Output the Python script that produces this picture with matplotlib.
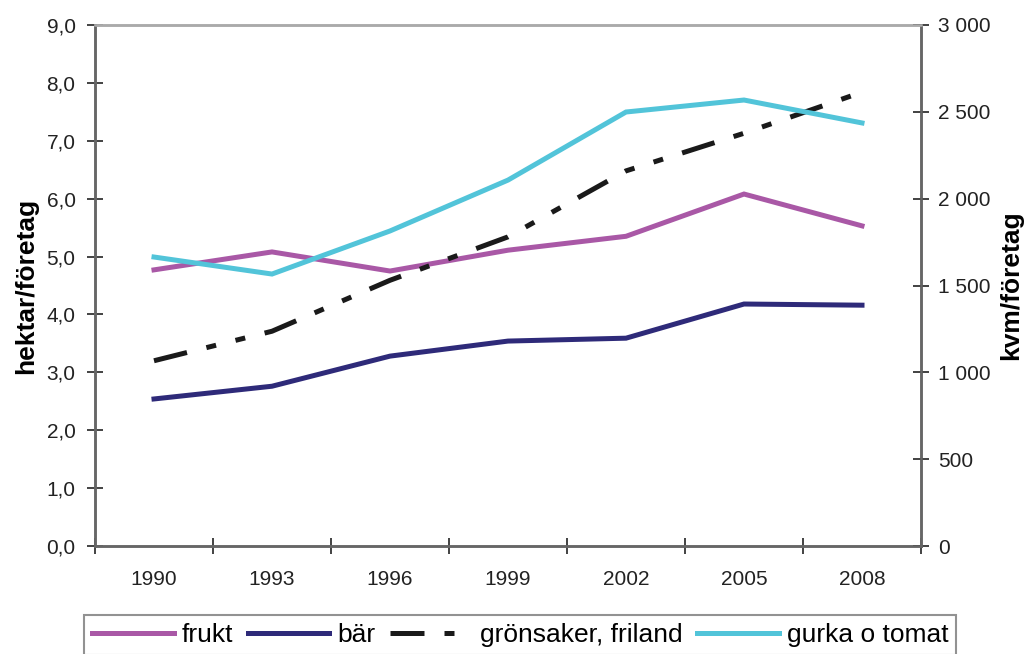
import matplotlib
matplotlib.use("Agg")
import matplotlib.pyplot as plt
from matplotlib.ticker import FuncFormatter, FixedLocator

plt.rcParams["font.family"] = ["Liberation Sans", "DejaVu Sans"]

years = ["1990", "1993", "1996", "1999", "2002", "2005", "2008"]
frukt = [4.77, 5.08, 4.75, 5.11, 5.35, 6.08, 5.53]
bar = [2.54, 2.76, 3.28, 3.54, 3.59, 4.18, 4.16]
gronsaker = [3.20, 3.71, 4.59, 5.34, 6.48, 7.13, 7.84]
gurka_kvm = [1664, 1566, 1814, 2107, 2499, 2568, 2436]

x = list(range(len(years)))

fig = plt.figure(figsize=(10.31, 6.54), dpi=100)
ax = fig.add_axes([95 / 1031, 1 - 546 / 654, 826 / 1031, 521 / 654])
ax2 = ax.twinx()

lw = 3.6
l1, = ax.plot(x, frukt, color="#a958a6", lw=lw, label="frukt", solid_joinstyle="miter")
l2, = ax.plot(x, bar, color="#2e2a79", lw=lw, label="bär", solid_joinstyle="miter")
l3, = ax.plot(x, gronsaker, color="#1a1a1a", lw=lw, label="grönsaker, friland",
              dashes=(6.8, 4.0, 2.0, 4.0, 2.0, 4.0), dash_capstyle="butt")
l4, = ax2.plot(x, gurka_kvm, color="#52c4d9", lw=lw, label="gurka o tomat", solid_joinstyle="miter")

ax.set_xlim(-0.5, len(years) - 0.5)
ax.set_ylim(0, 9)
ax2.set_ylim(0, 3000)

ax.xaxis.set_major_locator(FixedLocator([i - 0.5 for i in range(len(years) + 1)]))
ax.xaxis.set_minor_locator(FixedLocator(x))
ax.set_xticklabels([])
ax.set_xticklabels(years, minor=True)
ax.tick_params(axis="x", which="major", direction="inout", length=12, width=1.2, color="#222222")
ax.tick_params(axis="x", which="minor", length=0, pad=17, labelsize=15, labelcolor="#222222")

ax.set_yticks([i for i in range(10)])
ax.yaxis.set_major_formatter(FuncFormatter(lambda v, p: f"{v:.1f}".replace(".", ",")))
ax.tick_params(axis="y", direction="inout", length=12, width=1.2, color="#222222",
               pad=8, labelsize=15, labelcolor="#222222")

ax2.set_yticks(range(0, 3001, 500))
ax2.yaxis.set_major_formatter(FuncFormatter(lambda v, p: f"{int(v):,}".replace(",", " ")))
ax2.tick_params(axis="y", direction="inout", length=12, width=1.2, color="#222222",
                pad=6, labelsize=15, labelcolor="#222222")

for a in (ax, ax2):
    for side in ("left", "bottom", "right"):
        a.spines[side].set_color("#666666")
        a.spines[side].set_linewidth(1.8)
    a.spines["top"].set_color("#aaaaaa")
    a.spines["top"].set_linewidth(1.8)

ax.set_ylabel("hektar/företag", fontsize=19, fontweight="bold", labelpad=6)
ax2.set_ylabel("kvm/företag", fontsize=19, fontweight="bold", labelpad=6)

leg = fig.legend(handles=[l1, l2, l3, l4], loc="upper center",
                 bbox_to_anchor=(520 / 1031, 1 - 615 / 654), ncol=4, fontsize=19,
                 frameon=True, fancybox=False, handlelength=3.1, handletextpad=0.3,
                 columnspacing=0.55, borderpad=0.3, borderaxespad=0)
leg.get_frame().set_edgecolor("#777777")
leg.get_frame().set_linewidth(1.5)

fig.savefig("out.png", dpi=100)
